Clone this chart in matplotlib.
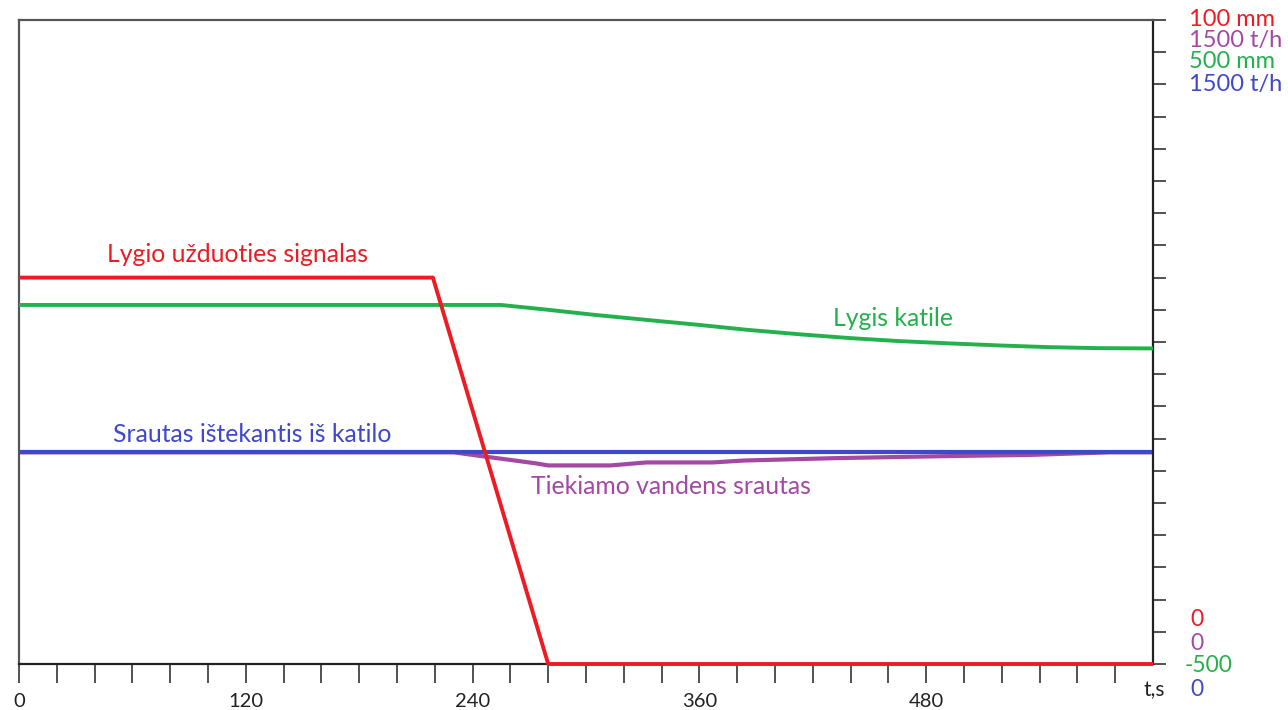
import matplotlib.pyplot as plt

# colours as in the original (MS Paint style palette)
RED = '#ed1c24'
GREEN = '#22b14c'
BLUE = '#3f48cc'
PURPLE = '#a349a4'

# setpoint signal, mm
set_t = [0, 219, 280, 600]
set_v = [60, 60, 0, 0]

# boiler level, mm
lvl_t = [0, 255, 280, 305, 335, 360, 385, 415, 440, 465, 495, 520, 545, 570, 600]
lvl_v = [57.5, 57.5, 50, 42, 33.5, 26.5, 19, 11.5, 6, 1.5, -2.5, -5.5, -8, -9.5, -10]

# outflow from boiler, t/h
out_t = [0, 600]
out_v = [493, 493]

# feed water flow, t/h
feed_t = [0, 230, 245, 258, 274, 280, 313, 332, 367, 384, 432, 463, 495, 535, 577, 600]
feed_v = [493, 493, 484, 476.5, 467, 462.5, 462.5, 469.5, 469.5, 474, 479.5, 482, 484.5,
          487, 493, 493]

x_labels = {0: '0', 120: '120', 240: '240', 360: '360', 480: '480'}

plt.rcParams['font.family'] = ['Lato', 'DejaVu Sans']

fig = plt.figure(figsize=(12.88, 7.10), dpi=100)
ax = fig.add_axes([19 / 1288, 46 / 710, 1134 / 1288, 644 / 710])
ax_lvl = ax.twinx()
ax_set = ax.twinx()

ax.set_xlim(0, 600)
ax.set_ylim(0, 1500)
ax_lvl.set_ylim(-500, 500)
ax_set.set_ylim(0, 100)

ax.plot(feed_t, feed_v, color=PURPLE, lw=3.0, solid_capstyle='butt')
ax.plot(out_t, out_v, color=BLUE, lw=3.0, solid_capstyle='butt')
ax_lvl.plot(lvl_t, lvl_v, color=GREEN, lw=2.8, solid_capstyle='butt')
ax_set.plot(set_t, set_v, color=RED, lw=2.8, solid_capstyle='butt', clip_on=False)

# frame
for a in (ax_lvl, ax_set):
    for s in a.spines.values():
        s.set_visible(False)
    a.set_yticks([])
ax.spines['top'].set_color('#555555')
ax.spines['left'].set_color('#555555')
ax.spines['bottom'].set_color('#222222')
ax.spines['right'].set_color('#222222')
for s in ax.spines.values():
    s.set_linewidth(1.6)

ax.set_xticks(range(0, 600, 20))
ax.set_xticklabels([x_labels.get(t, '') for t in range(0, 600, 20)], fontsize=14.5,
                   color='#222222')
ax.tick_params(axis='x', direction='out', length=14, width=1.1, color='#222222', pad=7)

ax.yaxis.tick_right()
ax.set_yticks([i * 75 for i in range(21)])
ax.set_yticklabels([])
ax.tick_params(axis='y', direction='out', length=9, width=1.1, color='#222222')

# curve labels
txt = dict(fontsize=17.8, va='center', ha='left')
ax.annotate('Lygio užduoties signalas', xy=(0, 1), xycoords='axes fraction',
            xytext=(88, -235), textcoords='offset pixels', color=RED, **txt)
ax.annotate('Lygis katile', xy=(0, 1), xycoords='axes fraction',
            xytext=(814, -298), textcoords='offset pixels', color=GREEN, **txt)
ax.annotate('Srautas ištekantis iš katilo', xy=(0, 1), xycoords='axes fraction',
            xytext=(94, -414), textcoords='offset pixels', color=BLUE, **txt)
ax.annotate('Tiekiamo vandens srautas', xy=(0, 1), xycoords='axes fraction',
            xytext=(512, -466), textcoords='offset pixels', color=PURPLE, **txt)

# scale labels at the right
scale_top = [('100 mm', RED, 0), ('1500 t/h', PURPLE, -21), ('500 mm', GREEN, -42),
             ('1500 t/h', BLUE, -65)]
for s, c, dy in scale_top:
    ax.annotate(s, xy=(1, 1), xycoords='axes fraction', xytext=(36, dy),
                textcoords='offset pixels', color=c, fontsize=17, va='center', ha='left')
scale_bot = [('0', RED, 44, 37), ('0', PURPLE, 21, 37), ('-500', GREEN, -2, 32),
             ('0', BLUE, -26, 37)]
for s, c, dy, dx in scale_bot:
    ax.annotate(s, xy=(1, 0), xycoords='axes fraction', xytext=(dx, dy),
                textcoords='offset pixels', color=c, fontsize=16.5, va='center', ha='left')
ax.annotate('t,s', xy=(1, 0), xycoords='axes fraction', xytext=(1, -26),
            textcoords='offset pixels', color='#222222', fontsize=15, va='center', ha='center')

fig.savefig('out.png', dpi=100)
